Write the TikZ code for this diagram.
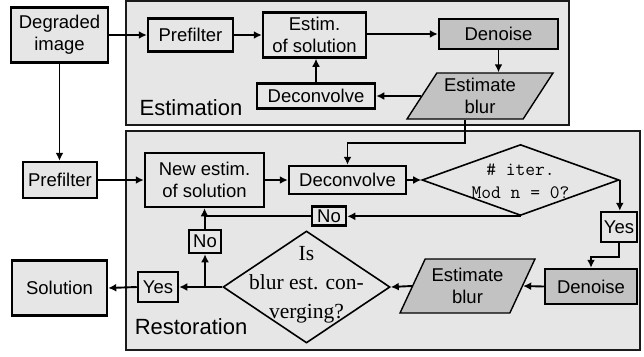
\documentclass[tikz,border=0pt]{standalone}
\usepackage{fontspec}
\setmainfont{Liberation Sans}
\newfontfamily\serifface{Liberation Serif}
\usetikzlibrary{shapes.geometric,arrows.meta,calc}
\definecolor{boxgray}{HTML}{E6E6E6}
\definecolor{dkgray}{HTML}{C2C2C2}
\definecolor{frame}{HTML}{1A1A1A}
\begin{document}
\begin{tikzpicture}[x=1pt,y=-1pt,
  txt/.style={font=\fontsize{18.5}{22}\selectfont},
  box/.style={txt, draw=black, line width=2.5pt, fill=boxgray, inner sep=0pt, align=center},
  dbox/.style={box, fill=dkgray},
  container/.style={draw=frame, line width=2.8pt, fill=boxgray, inner sep=0pt},
  para/.style={txt, trapezium, trapezium stretches=true, draw=black, line width=1.4pt, fill=dkgray, inner sep=0pt, align=center},
  decision/.style={diamond, draw=black, line width=1.6pt, fill=boxgray, inner sep=0pt},
  dtext/.style={align=center, inner sep=0pt},
  arr/.style={line width=1.9pt, -{Latex[length=8pt,width=8pt]}},
  ln/.style={line width=1.9pt},
  biglabel/.style={font=\fontsize{22}{26}\selectfont}]
\useasboundingbox (0,0) rectangle (644,356);

% containers
\node[container, minimum width=443pt, minimum height=124pt] (estc) at (347.5,63) {};
\node[container, minimum width=514pt, minimum height=219pt] (resc) at (383,240.5) {};
\node[biglabel] (estl) at (191,108) {Estimation};
\node[biglabel] (resl) at (191,327) {Restoration};

% estimation stage
\node[box, minimum width=97pt, minimum height=55pt] (deg) at (59.5,35) {Degraded\\image};
\node[box, minimum width=85pt, minimum height=33pt] (pre1) at (190.5,35) {Prefilter};
\node[box, minimum width=103pt, minimum height=45pt] (estsol) at (314.5,35) {Estim.\\of solution};
\node[dbox, minimum width=119pt, minimum height=30pt] (den1) at (498.5,34) {Denoise};
\node[para, trapezium left angle=55, trapezium right angle=125, minimum width=146pt, minimum height=46pt] (eb1) at (480,96) {Estimate\\blur};
\node[box, minimum width=118pt, minimum height=25pt] (dec1) at (316,96) {Deconvolve};

% restoration stage
\node[box, minimum width=74pt, minimum height=36pt] (pre2) at (60,180) {Prefilter};
\node[box, minimum width=119pt, minimum height=54pt] (newest) at (204.5,180) {New estim.\\of solution};
\node[box, minimum width=117pt, minimum height=28pt] (dec2) at (347.5,180) {Deconvolve};
\node[decision, minimum width=197pt, minimum height=71pt] (dia1) at (520.5,180) {};
\node[dtext, font=\ttfamily\fontsize{19}{23}\selectfont] (dia1t) at (520.5,181) {\# iter.\\Mod n = 0?};
\node[box, minimum width=34pt, minimum height=19pt] (no1) at (329,216) {No};
\node[box, minimum width=36pt, minimum height=30pt] (yes1) at (619,227) {Yes};
\node[dbox, minimum width=92pt, minimum height=35pt] (den2) at (591,286.5) {Denoise};
\node[para, trapezium left angle=59, trapezium right angle=121, minimum width=135pt, minimum height=54pt] (eb2) at (467.5,286) {Estimate\\blur};
\node[decision, minimum width=167pt, minimum height=112pt] (dia2) at (306.5,287) {};
\node[dtext, font=\serifface\fontsize{21.5}{29}\selectfont] (dia2t) at (306.5,285) {Is\\blur est. con-\\verging?};
\node[box, minimum width=32pt, minimum height=23pt] (no2) at (205,241.5) {No};
\node[box, minimum width=40pt, minimum height=30pt] (yes2) at (158,287) {Yes};
\node[box, minimum width=95pt, minimum height=55pt] (sol) at (59.5,288) {Solution};

% connectors: estimation
\draw[arr] (deg.east) -- (deg.east -| pre1.west);
\draw[arr] (pre1.east) -- (pre1.east -| estsol.west);
\draw[arr] (estsol.east |- den1.west) -- (den1.west);
\draw[arr] (den1.south) -- (den1.south |- eb1.top side);
\draw[arr] (eb1.left side) -- (eb1.left side -| dec1.east);
\draw[arr] (dec1.north) -- (dec1.north |- estsol.south);

% connectors: to restoration
\draw[arr] (deg.south) -- (deg.south |- pre2.north);
\draw[arr] (pre2.east) -- (newest.west);
\draw[arr] (newest.east) -- (dec2.west);
\draw[arr] (eb1.bottom side) -- ++(0,23) -| (dec2.north);
\draw[arr] (dec2.east) -- (dia1.west);
\draw[arr] (dia1.south) -- (dia1.south -| no1.east);
\draw[arr] (no1.west) -| (newest.south);
\draw[ln] (no2.north) -- (no2.north |- no1.west);
\draw[arr] (dia1.east) -- (dia1.east |- yes1.north);
\draw[arr] (yes1.south) -- ++(0,14) -| (den2.north);
\draw[arr] (den2.west) -- (eb2.right side);
\draw[arr] (eb2.left side) -- (dia2.east);
\coordinate (j) at (no2.south |- dia2.west);
\draw[arr] (dia2.west) -- (yes2.east);
\draw[arr] (j) -- (no2.south);
\draw[arr] (yes2.west) -- (sol.east);
\end{tikzpicture}
\end{document}
